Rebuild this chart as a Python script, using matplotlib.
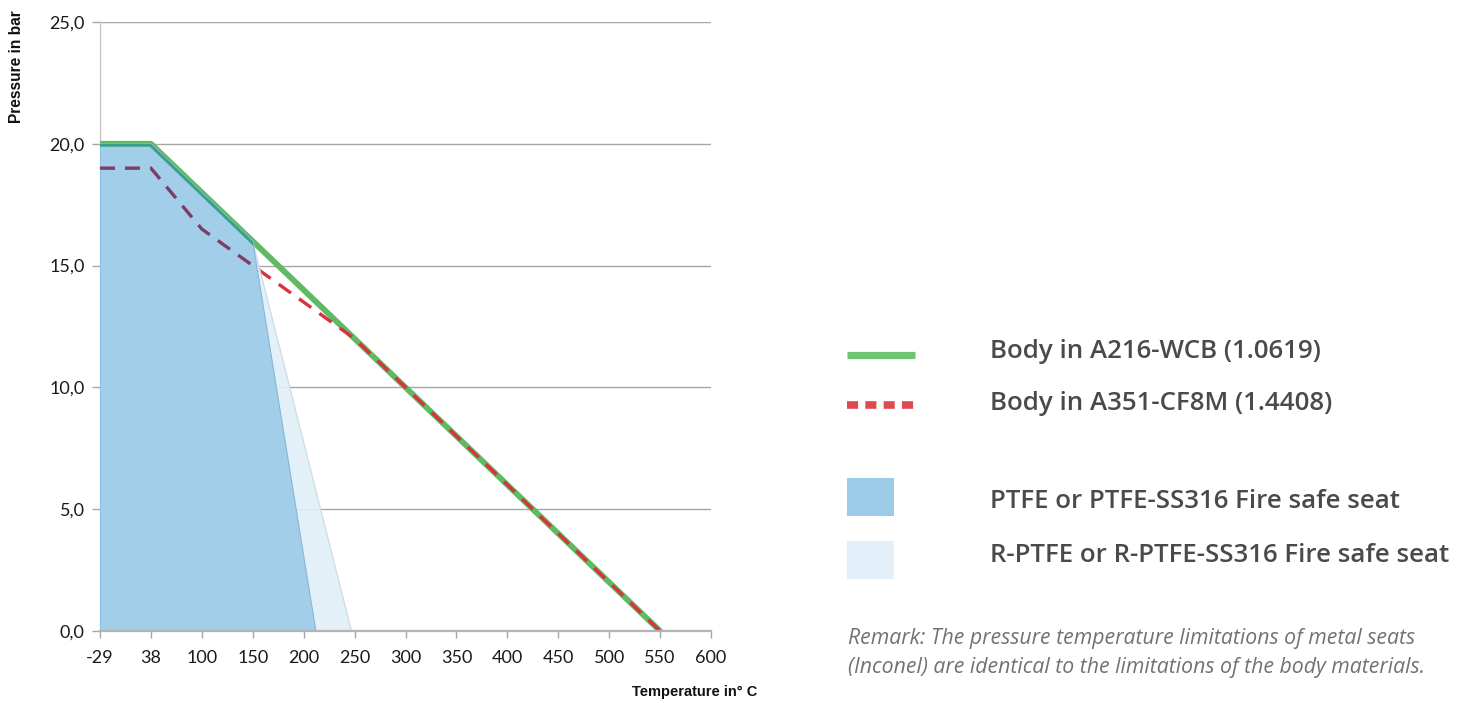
import numpy as np
import matplotlib
matplotlib.use("Agg")
import matplotlib.pyplot as plt
from matplotlib.lines import Line2D
from matplotlib.patches import Rectangle, Polygon

# ---- data ----
tick_temps = [-29, 38, 100, 150, 200, 250, 300, 350, 400, 450, 500, 550, 600]
tick_labels = ["-29", "38", "100", "150", "200", "250", "300", "350", "400", "450", "500", "550", "600"]
body_temps = [-29, 38, 100, 150, 200, 250, 300, 350, 400, 450, 500, 550]
wcb_pressure = [20, 20, 18, 16, 14, 12, 10, 8, 6, 4, 2, 0]
cf8m_pressure = [19, 19, 16.5, 15, 13.5, 12, 10, 8, 6, 4, 2, 0]
ptfe_temps = [-29, -29, 38, 150, 212]
ptfe_pressure = [0, 20, 20, 16, 0]
rptfe_temps = [-29, -29, 38, 150, 247]
rptfe_pressure = [0, 20, 20, 16, 0]
y_ticks = [0, 5, 10, 15, 20, 25]
y_labels = ["0,0", "5,0", "10,0", "15,0", "20,0", "25,0"]

legend_labels = ["Body in A216-WCB (1.0619)", "Body in A351-CF8M (1.4408)",
                 "PTFE or PTFE-SS316 Fire safe seat", "R-PTFE or R-PTFE-SS316 Fire safe seat"]
remark = ("Remark: The pressure temperature limitations of metal seats\n"
          "(Inconel) are identical to the limitations of the body materials.")

idx = np.arange(len(tick_temps))
def pos(t):
    return np.interp(t, tick_temps, idx)

W, H = 1459, 703
fig = plt.figure(figsize=(W / 100, H / 100), dpi=100)
ax = fig.add_axes([100 / W, 1 - 631 / H, (711 - 100) / W, (631 - 22) / H])
ax.set_xlim(0, 12)
ax.set_ylim(0, 25)

GREEN = "#5fba63"
RED = "#d9323d"
BLUE = "#9ccbe8"
LBLUE = "#e2eff8"

for s in ["top", "right"]:
    ax.spines[s].set_visible(False)
ax.spines["left"].set_color("#c8c8c8")
ax.spines["left"].set_linewidth(1.0)
ax.spines["bottom"].set_color("#b4b4b4")
ax.spines["bottom"].set_linewidth(1.6)
ax.spines["bottom"].set_zorder(6)

ax.set_yticks(y_ticks)
ax.set_yticklabels(y_labels)
ax.set_xticks(idx)
ax.set_xticklabels(tick_labels)
ax.tick_params(axis="y", length=6, width=1, color="#a6a6a6", pad=5)
ax.tick_params(axis="x", length=5, width=1, color="#a6a6a6", pad=9)
for lab in ax.get_xticklabels() + ax.get_yticklabels():
    lab.set_fontfamily("Lato")
    lab.set_fontsize(13)
    lab.set_color("#1a1a1a")

for y in y_ticks[1:]:
    ax.axhline(y, color="#a6a6a6", lw=1.0, zorder=1)

bx = pos(body_temps)
# body lines
ax.plot(bx, wcb_pressure, color=GREEN, lw=4.2, solid_capstyle="round", zorder=3)
ax.plot(bx, cf8m_pressure, color=RED, lw=2.4, dashes=(4.5, 3.0), zorder=4)

# seat areas
rp = Polygon(np.column_stack([pos(rptfe_temps), rptfe_pressure]), closed=True,
             facecolor=LBLUE, edgecolor="#c9d6e0", lw=0.8, alpha=0.9, zorder=5)
ax.add_patch(rp)
bp = Polygon(np.column_stack([pos(ptfe_temps), ptfe_pressure]), closed=True,
             facecolor=BLUE, edgecolor="#7fb2d6", lw=0.8, alpha=0.9, zorder=5)
ax.add_patch(bp)

# lines as seen through the PTFE area
clip = Polygon(np.column_stack([pos(ptfe_temps), ptfe_pressure]), closed=True,
               transform=ax.transData, visible=False)
ax.add_patch(clip)
l1, = ax.plot(bx, wcb_pressure, color="#3ba088", lw=4.2, zorder=6)
l1.set_clip_path(clip)
l2, = ax.plot(bx, cf8m_pressure, color="#7c3e68", lw=2.4, dashes=(4.5, 3.0), zorder=6)
l2.set_clip_path(clip)

fig.text(17 / W, 1 - 67 / H, "Pressure in bar", rotation=90, ha="center", va="center",
         fontfamily="Liberation Sans", fontweight="bold", fontsize=11.2, color="#111111")
fig.text(695 / W, 1 - 692 / H, "Temperature in° C", ha="center", va="center",
         fontfamily="Liberation Sans", fontweight="bold", fontsize=10.5, color="#111111")

# ---- legend (figure coordinates in pixels) ----
def fx(x):
    return x / W
def fy(y):
    return 1 - y / H

fig.add_artist(Line2D([fx(847), fx(915)], [fy(355), fy(355)], color="#6cc474", lw=5.2,
                      solid_capstyle="butt"))
fig.add_artist(Line2D([fx(847), fx(915)], [fy(405), fy(405)], color="#de4a52", lw=5.5,
                      dashes=(1.45, 0.95), dash_capstyle="butt"))
fig.add_artist(Rectangle((fx(847), fy(516)), fx(894) - fx(847), fy(478) - fy(516),
                         facecolor=BLUE, edgecolor="none"))
fig.add_artist(Rectangle((fx(847), fy(579)), fx(894) - fx(847), fy(541) - fy(579),
                         facecolor=LBLUE, edgecolor="none"))

for lab, yc in zip(legend_labels, [352, 403, 502, 555]):
    fig.text(fx(990), fy(yc), lab, ha="left", va="center", fontfamily="Open Sans",
             fontweight="semibold", fontsize=18.6, color="#4a4a4a")

fig.text(fx(848), fy(653), remark, ha="left", va="center", fontfamily="Open Sans",
         fontstyle="italic", fontweight="normal", fontsize=15.3, color="#727272",
         linespacing=1.45)

fig.savefig("out.png", dpi=100)
